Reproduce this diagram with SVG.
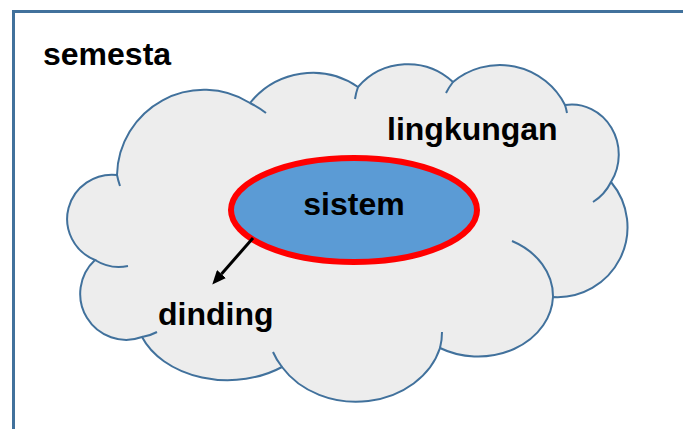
<svg xmlns="http://www.w3.org/2000/svg" width="683" height="429" viewBox="0 0 683 429">
  <style>
    .lbl { font-family: "Liberation Sans", Arial, sans-serif; font-weight: bold; font-size: 32px; fill: #000000; }
    .cloud { fill: #ededed; stroke: #41719c; stroke-width: 2; }
    .stub { fill: none; stroke: #41719c; stroke-width: 2; }
  </style>
  <defs>
    <marker id="arrow" markerUnits="userSpaceOnUse" viewBox="0 0 14 12" markerWidth="14" markerHeight="12" refX="0" refY="6" orient="auto">
      <path d="M0,0 L14,6 L0,12 Z" fill="#000000"/>
    </marker>
  </defs>
  <rect x="0" y="0" width="683" height="429" fill="#ffffff"/>

  <g id="semesta">
    <rect x="13.5" y="11.5" width="720" height="460" fill="none" stroke="#41719c" stroke-width="3"/>
    <text class="lbl" x="43" y="65">semesta</text>
  </g>

  <g id="lingkungan">
    <path class="cloud" d="M117,175 A87,87 0 0 1 250,103 A80,80 0 0 1 358,87 A66,66 0 0 1 453,82 A73,73 0 0 1 565,105 A47,50 0 0 1 611,182 A70,70 0 0 1 553,297 A75,62 0 0 1 440,348 A87,73 0 0 1 282,367 A92,68 0 0 1 142,337 A46,46 0 0 1 95,260 A45,44.3 0 0 1 117,175 Z"/>
    <path class="stub" d="M120,186 A87,87 0 0 1 117,175"/>
    <path class="stub" d="M250,103 A87,87 0 0 1 266,113"/>
    <path class="stub" d="M355,99 A66,66 0 0 1 358,87"/>
    <path class="stub" d="M446,93 A73,73 0 0 1 453,82"/>
    <path class="stub" d="M565,105 A73,73 0 0 1 567,113"/>
    <path class="stub" d="M611,182 A47,50 0 0 1 593,202"/>
    <path class="stub" d="M512,241 A75,62 0 0 1 553,297"/>
    <path class="stub" d="M442,332 A87,73 0 0 1 440,348"/>
    <path class="stub" d="M282,367 A87,73 0 0 1 273,352"/>
    <path class="stub" d="M157,332 A46,46 0 0 1 142,337"/>
    <path class="stub" d="M128,266 A45,44.3 0 0 1 95,260"/>
    <text class="lbl" x="387" y="140">lingkungan</text>
  </g>

  <g id="sistem">
    <ellipse cx="354" cy="210" rx="123" ry="52" fill="#5b9bd5" stroke="#ff0000" stroke-width="6"/>
    <text class="lbl" x="354" y="215" text-anchor="middle">sistem</text>
  </g>

  <g id="connectors">
    <line x1="253" y1="238" x2="221.5" y2="274" stroke="#000000" stroke-width="3" marker-end="url(#arrow)"/>
  </g>

  <g id="dinding">
    <text class="lbl" x="158" y="325">dinding</text>
  </g>
</svg>
